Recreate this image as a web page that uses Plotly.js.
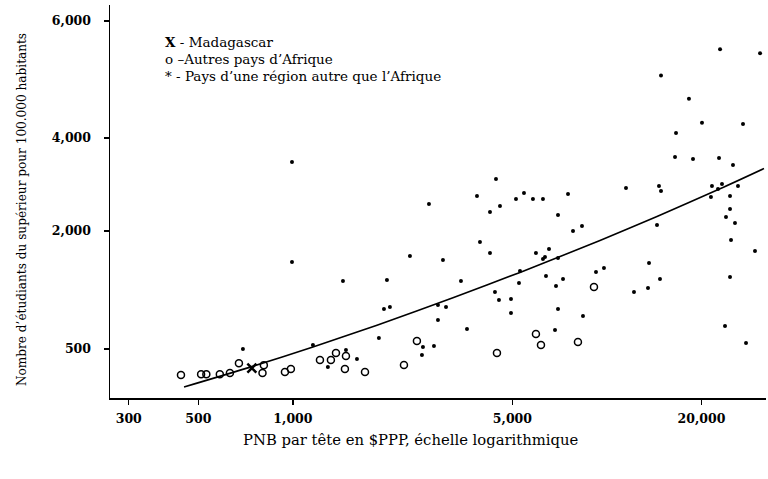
<!DOCTYPE html>
<html>
<head>
<meta charset="utf-8">
<script src="https://cdn.plot.ly/plotly-3.0.1.min.js"></script>
<style>html,body{margin:0;padding:0;background:#fff;}#chart{width:768px;height:479px;}</style>
</head>
<body>
<div id="chart"></div>
<script>
// Madagascar
const madaGNP = [740];
const madaStud = [258];

// Other African countries (open circles)
const afrGNP = [440, 510, 530, 585, 630, 673, 808, 800, 943, 985, 1219, 1321, 1371, 1475, 1464, 1696, 2257, 2482, 4463, 5940, 6163, 8083, 9090];
const afrStud = [170, 180, 180, 180, 195, 320, 295, 195, 208, 246, 360, 360, 449, 411, 246, 208, 297, 602, 449, 691, 551, 589, 1288];

// Countries from other regions (dots)
const othGNP = [693, 993, 993, 1158, 1292, 1443, 1475, 1599, 1878, 1949, 2036, 1992, 2358, 2711, 2575, 2594, 2812, 2896, 2896, 3072, 3004, 3428, 3583,
  3855, 3940, 4241, 4241, 4398, 4431, 4529, 4563, 4947, 4947, 5131, 5245, 5284, 5441, 5811, 5940, 6254, 6254, 6347, 6394, 6537, 6831, 6882, 6983, 6983, 6983,
  7245, 7515, 7795, 8325, 8386, 9226, 9781, 11496, 12190, 13509, 13610, 14430, 14640, 14860, 14750, 14860, 16470, 16590, 18240, 18790, 20070,
  21430, 21590, 22570, 22740, 22910, 23240, 23760, 23930, 24650, 24650, 24650, 24830, 25190, 25560, 26130, 27110, 27720, 29600, 30720];
const othStud = [500, 3484, 1606, 551, 271, 1364, 487, 373, 640, 1008, 1034, 1377, 1682, 2581, 424, 525, 538, 1059, 869, 1034, 1631, 1364, 754,
  2753, 1860, 2409, 1720, 1225, 3118, 1123, 2538, 1136, 958, 2688, 1339, 1491, 2817, 2688, 1720, 2688, 1644, 1670, 1428, 1771, 741, 1301, 2344, 1657, 1008,
  1390, 2796, 2000, 2108, 919, 1479, 1530, 2925, 1225, 1275, 1593, 2129, 2968, 2860, 1390, 5069, 3591, 4086, 4672, 3548, 4259,
  2731, 2968, 2903, 3570, 5517, 3011, 792, 2301, 2753, 2473, 1415, 1886, 3419, 2172, 2968, 4241, 576, 1746, 5448];

// Fitted curve
const fitGNP = [450, 740, 1158, 1852, 3233, 5284, 9500, 14430, 22910, 31623];
const fitStud = [17, 276, 525, 803, 1151, 1474, 1880, 2312, 2907, 3342];

// Axis ticks
const xTickVals = [300, 500, 1000, 5000, 20000];
const xTickText = ['300', '500', '1,000', '5,000', '20,000'];
const yTickVals = [500, 2000, 4000, 6000];
const yTickText = ['500', '2,000', '4,000', '6,000'];
// The printed vertical scale is not uniform: relative spacing of its tick marks
const yTickSpacing = [0, 118, 211, 328];

function warp(v) {
  const k = yTickVals, p = yTickSpacing;
  let i = 0;
  if (v <= k[0]) i = 0;
  else if (v >= k[k.length - 1]) i = k.length - 2;
  else { while (v > k[i + 1]) i++; }
  return p[i] + (v - k[i]) * (p[i + 1] - p[i]) / (k[i + 1] - k[i]);
}

const serif = 'DejaVu Serif, Liberation Serif, serif';

const traces = [
  {
    x: fitGNP, y: fitStud.map(warp), mode: 'lines', type: 'scatter',
    line: {color: '#000', width: 1.6, shape: 'spline', smoothing: 0.8},
    hoverinfo: 'skip', showlegend: false
  },
  {
    x: othGNP, y: othStud.map(warp), mode: 'markers', type: 'scatter',
    marker: {symbol: 'circle', size: 4, color: '#000'},
    showlegend: false
  },
  {
    x: afrGNP, y: afrStud.map(warp), mode: 'markers', type: 'scatter',
    marker: {symbol: 'circle-open', size: 7, color: '#000', line: {width: 1.5, color: '#000'}},
    showlegend: false
  },
  {
    x: madaGNP, y: madaStud.map(warp), mode: 'markers', type: 'scatter',
    marker: {symbol: 'x-thin-open', size: 9, color: '#000', line: {width: 2.5, color: '#000'}},
    showlegend: false
  }
];

const layout = {
  width: 768, height: 479,
  margin: {l: 110, r: 2, t: 5, b: 81},
  paper_bgcolor: '#fff', plot_bgcolor: '#fff',
  showlegend: false,
  xaxis: {
    type: 'log', range: [Math.log10(261.5), Math.log10(32090)],
    tickvals: xTickVals, ticktext: xTickText,
    ticks: 'outside', ticklen: 5, tickwidth: 1.2, tickcolor: '#000',
    showline: true, linecolor: '#000', linewidth: 2,
    showgrid: false, zeroline: false,
    tickfont: {family: serif, size: 12.5, color: '#000', weight: 'bold'},
    ticklabelstandoff: 3
  },
  yaxis: {
    type: 'linear', range: [-49, 344],
    tickvals: yTickVals.map(warp), ticktext: yTickText,
    ticks: 'outside', ticklen: 5, tickwidth: 1.2, tickcolor: '#000',
    showline: true, linecolor: '#000', linewidth: 1.5,
    showgrid: false, zeroline: false,
    tickfont: {family: serif, size: 12.5, color: '#000', weight: 'bold'},
    ticklabelstandoff: 10
  },
  annotations: [
    {xref: 'paper', yref: 'paper', x: 0.0808, y: 0.906, xanchor: 'left', yanchor: 'middle', showarrow: false,
     text: '<b>X</b> - Madagascar', font: {family: serif, size: 13.5, color: '#000'}},
    {xref: 'paper', yref: 'paper', x: 0.0808, y: 0.8626, xanchor: 'left', yanchor: 'middle', showarrow: false,
     text: 'o –Autres pays d\u2019Afrique', font: {family: serif, size: 13.5, color: '#000'}},
    {xref: 'paper', yref: 'paper', x: 0.0808, y: 0.819, xanchor: 'left', yanchor: 'middle', showarrow: false,
     text: '* - Pays d\u2019une région autre que l\u2019Afrique', font: {family: serif, size: 13.5, color: '#000'}},
    {xref: 'paper', yref: 'paper', x: (411 - 110) / 656, y: (398 - 439) / 393, xanchor: 'center', yanchor: 'middle', showarrow: false,
     text: 'PNB par tête en $PPP, échelle logarithmique', font: {family: serif, size: 14.8, color: '#000'}},
    {xref: 'paper', yref: 'paper', x: (22 - 110) / 656, y: (398 - 210) / 393, xanchor: 'center', yanchor: 'middle', showarrow: false,
     textangle: -90,
     text: 'Nombre d\u2019étudiants du supérieur pour 100.000 habitants', font: {family: serif, size: 12.1, color: '#000'}}
  ]
};

Plotly.newPlot('chart', traces, layout, {displayModeBar: false, staticPlot: true});
</script>
</body>
</html>
